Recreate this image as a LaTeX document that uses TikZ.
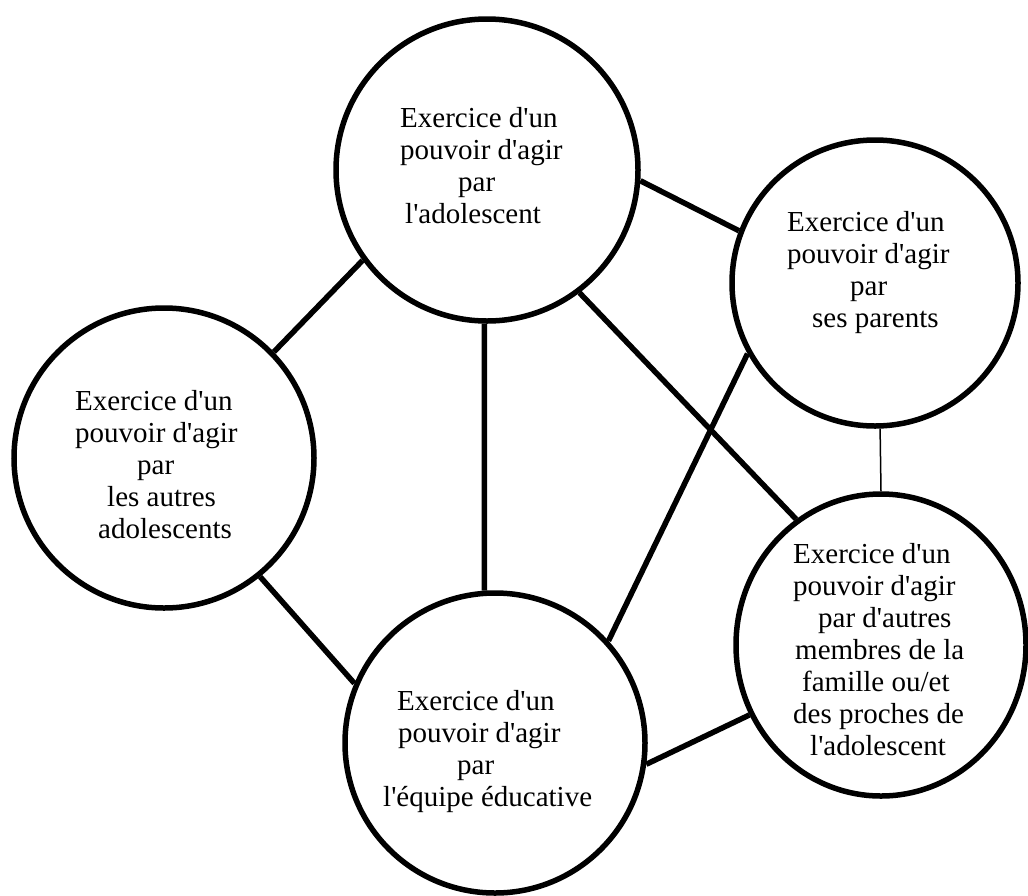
\documentclass[tikz,border=0pt]{standalone}
\usepackage{fontspec}
\newfontfamily\tnr{Liberation Serif}
\usetikzlibrary{shapes.geometric}
\begin{document}
\begin{tikzpicture}[x=1pt,y=-1pt,
  ring/.style={draw, circle, line width=5.5pt, inner sep=0pt},
  oval/.style={draw, ellipse, line width=5.5pt, inner sep=0pt},
  txt/.style={font=\tnr\fontsize{29}{32}\selectfont, align=left, inner sep=0pt, anchor=base west},
  conn/.style={line width=5.5pt},
  thinconn/.style={line width=1.5pt}]
\useasboundingbox (0,0) rectangle (1028,895);
% circles
\node[ring, minimum size=302pt] (A) at (487,170) {};
\node[ring, minimum size=286pt] (B) at (875,283) {};
\node[ring, minimum size=300pt] (C) at (164,458) {};
\node[ring, minimum size=300pt] (D) at (495,743) {};
\node[oval, minimum width=290pt, minimum height=302pt] (E) at (881,645) {};
% texts (anchored at the baseline of the last line)
\node[txt] (At) at (400,223) {Exercice d'un\\pouvoir d'agir\\\hspace*{58pt}par\\\hspace*{5pt}l'adolescent};
\node[txt] (Bt) at (787,327) {Exercice d'un\\pouvoir d'agir\\\hspace*{63pt}par\\\hspace*{25pt}ses parents};
\node[txt] (Ct) at (75,538) {Exercice d'un\\pouvoir d'agir\\\hspace*{62pt}par\\\hspace*{32pt}les autres\\\hspace*{23pt}adolescents};
\node[txt] (Dt) at (383,806) {\hspace*{14pt}Exercice d'un\\\hspace*{15pt}pouvoir d'agir\\\hspace*{74pt}par\\l'équipe éducative};
\node[txt] (Et) at (793,755) {Exercice d'un\\pouvoir d'agir\\\hspace*{25pt}par d'autres\\\hspace*{2pt}membres de la\\\hspace*{9pt}famille ou/et\\des proches de\\\hspace*{17pt}l'adolescent};
% connectors
\draw[conn] (A.216.7) -- (C.44.2);
\draw[conn] (A.-4.8) -- (B.159.6);
\draw[conn] (A.-91.5) -- (D.94.5);
\draw[conn] (A.-53.5) -- (E.124.5);
\draw[conn] (B.209.5) -- (D.42.3);
\draw[thinconn] (B.-88) -- (E.90.4);
\draw[conn] (C.-51.6) -- (D.157.5);
\draw[conn] (D.-8.7) -- (E.208);
\end{tikzpicture}
\end{document}
